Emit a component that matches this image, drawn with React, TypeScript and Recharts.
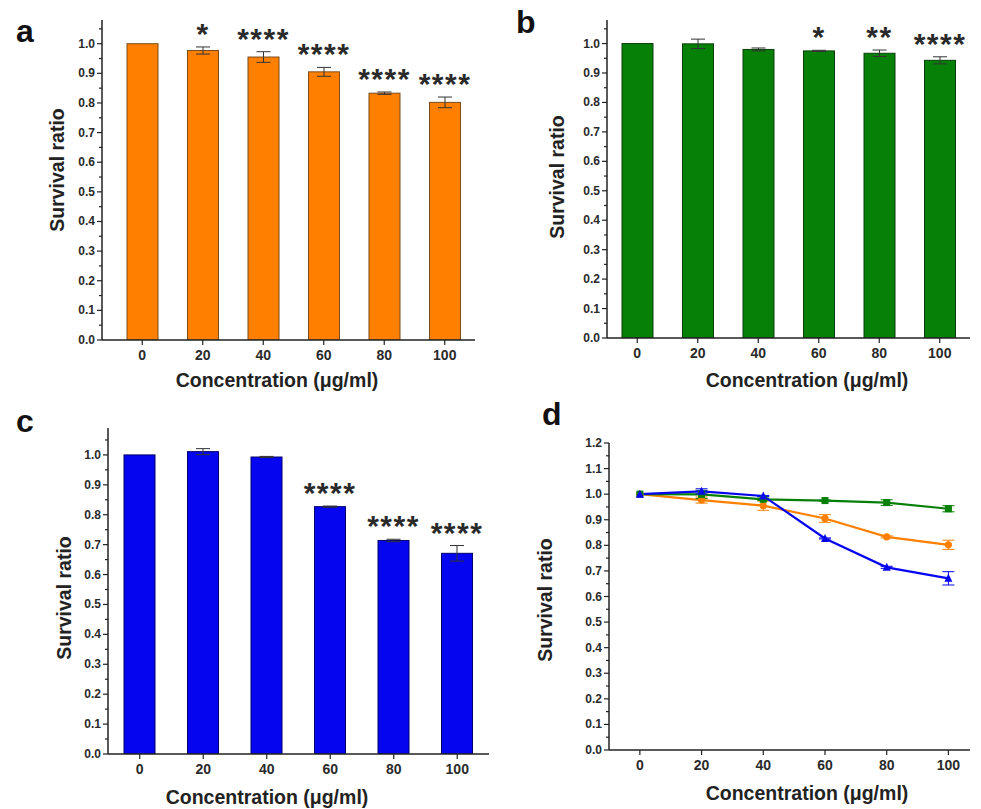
import React from 'react'
import { BarChart, Bar, LineChart, Line, XAxis, YAxis, ErrorBar } from 'recharts'

const FONT = '"Liberation Sans", Arial, sans-serif'
const INK = '#222'

const concentrations = ['0', '20', '40', '60', '80', '100']
const concNum = [0, 20, 40, 60, 80, 100]

// panel a (orange)
const ratioA = [1.0, 0.977, 0.955, 0.905, 0.833, 0.802]
const errA = [0, 0.012, 0.018, 0.015, 0.004, 0.018]
const starsA = ['', '*', '****', '****', '****', '****']

// panel b (green)
const ratioB = [1.0, 0.999, 0.98, 0.975, 0.967, 0.943]
const errB = [0, 0.016, 0.005, 0.002, 0.011, 0.012]
const starsB = ['', '', '', '*', '**', '****']

// panel c (blue)
const ratioC = [1.0, 1.011, 0.993, 0.827, 0.714, 0.671]
const errC = [0, 0.01, 0.002, 0.002, 0.004, 0.026]
const starsC = ['', '', '', '****', '****', '****']

const yTicksBar = [0, 0.05, 0.1, 0.15, 0.2, 0.25, 0.3, 0.35, 0.4, 0.45, 0.5, 0.55, 0.6, 0.65, 0.7, 0.75, 0.8, 0.85, 0.9, 0.95, 1.0, 1.05]
const yTicksLine = [0, 0.05, 0.1, 0.15, 0.2, 0.25, 0.3, 0.35, 0.4, 0.45, 0.5, 0.55, 0.6, 0.65, 0.7, 0.75, 0.8, 0.85, 0.9, 0.95, 1.0, 1.05, 1.1, 1.15, 1.2]
const xTicksLine = [0, 20, 40, 60, 80, 100]

const ORANGE = '#ff8000'
const GREEN = '#078007'
const BLUE = '#0505f0'

const buildRows = (ratio: number[], err: number[], stars: string[]) =>
  concentrations.map((c, i) => ({ conc: c, ratio: ratio[i], err: err[i], stars: stars[i] }))

const rowsA = buildRows(ratioA, errA, starsA)
const rowsB = buildRows(ratioB, errB, starsB)
const rowsC = buildRows(ratioC, errC, starsC)

const lineRows = concNum.map((c, i) => ({
  conc: c,
  a: ratioA[i],
  aErr: errA[i],
  b: ratioB[i],
  bErr: errB[i],
  c: ratioC[i],
  cErr: errC[i],
}))

function YTick(props: any) {
  const { x, y, payload } = props
  const v = payload.value
  const major = Math.abs(v * 10 - Math.round(v * 10)) < 1e-6
  return (
    <g>
      <line x1={x - (major ? 5 : 3)} x2={x} y1={y} y2={y} stroke={INK} strokeWidth={1.2} />
      {major && (
        <text x={x - 7} y={y + 4} textAnchor="end" fontSize={12} fontWeight="bold" fill="#2a2a2a" fontFamily={FONT}>
          {v.toFixed(1)}
        </text>
      )}
    </g>
  )
}

function XTick(props: any) {
  const { x, y, payload } = props
  return (
    <g>
      <line x1={x} x2={x} y1={y} y2={y + 5} stroke={INK} strokeWidth={1.2} />
      <text x={x} y={y + 20} textAnchor="middle" fontSize={14} fontWeight="bold" fill="#2a2a2a" fontFamily={FONT}>
        {payload.value}
      </text>
    </g>
  )
}

// bar with significance stars above its error bar
function StarBar(fill: string, stroke: string) {
  return (props: any) => {
    const { x, y, width, height, payload } = props
    const pxPer = payload.ratio ? height / payload.ratio : 0
    const top = y - payload.err * pxPer
    return (
      <g>
        <rect x={x} y={y} width={width} height={height} fill={fill} stroke={stroke} strokeWidth={1} />
        {payload.stars && (
          <text
            x={x + width / 2}
            y={top - 3}
            textAnchor="middle"
            fontSize={30}
            fontWeight="bold"
            letterSpacing={1.5}
            fill="#2a2a2a"
            fontFamily={FONT}
          >
            {payload.stars}
          </text>
        )}
      </g>
    )
  }
}

function BarPanel({ rows, fill, stroke, width, height, margin, yMax, padLeft }: any) {
  return (
    <BarChart width={width} height={height} data={rows} margin={margin} barSize={31}>
      <XAxis
        dataKey="conc"
        height={30}
        interval={0}
        tick={<XTick />}
        tickLine={false}
        tickSize={0}
        tickMargin={0}
        padding={{ left: padLeft, right: 0 }}
        axisLine={{ stroke: INK, strokeWidth: 1.5 }}
      />
      <YAxis
        type="number"
        width={50}
        domain={[0, yMax]}
        ticks={yTicksBar}
        interval={0}
        allowDataOverflow
        tick={<YTick />}
        tickLine={false}
        tickSize={0}
        tickMargin={0}
        axisLine={{ stroke: INK, strokeWidth: 1.5 }}
      />
      <Bar dataKey="ratio" shape={StarBar(fill, stroke)} isAnimationActive={false}>
        <ErrorBar dataKey="err" width={7} stroke="#333" strokeWidth={1} direction="y" />
      </Bar>
    </BarChart>
  )
}

function makeDot(kind: string, color: string) {
  return (props: any) => {
    const { cx, cy, index } = props
    if (kind === 'square') {
      return <rect key={index} x={cx - 3.5} y={cy - 3.5} width={7} height={7} fill={color} />
    }
    if (kind === 'triangle') {
      return <path key={index} d={`M${cx},${cy - 4.5} L${cx + 4},${cy + 3.5} L${cx - 4},${cy + 3.5} Z`} fill={color} />
    }
    return <circle key={index} cx={cx} cy={cy} r={3.6} fill={color} />
  }
}

function LinePanel() {
  return (
    <LineChart width={491} height={409} data={lineRows} margin={{ top: 43, right: 11, bottom: 29, left: 69 }}>
      <XAxis
        dataKey="conc"
        type="number"
        domain={[-10, 107]}
        ticks={xTicksLine}
        interval={0}
        allowDataOverflow
        height={30}
        tick={<XTick />}
        tickLine={false}
        tickSize={0}
        tickMargin={0}
        axisLine={{ stroke: INK, strokeWidth: 1.5 }}
      />
      <YAxis
        type="number"
        width={50}
        domain={[0, 1.2]}
        ticks={yTicksLine}
        interval={0}
        allowDataOverflow
        tick={<YTick />}
        tickLine={false}
        tickSize={0}
        tickMargin={0}
        axisLine={{ stroke: INK, strokeWidth: 1.5 }}
      />
      <Line dataKey="a" stroke={ORANGE} strokeWidth={2.2} dot={makeDot('circle', ORANGE)} isAnimationActive={false}>
        <ErrorBar dataKey="aErr" width={6} stroke={ORANGE} strokeWidth={1} direction="y" />
      </Line>
      <Line dataKey="b" stroke={GREEN} strokeWidth={2.2} dot={makeDot('square', GREEN)} isAnimationActive={false}>
        <ErrorBar dataKey="bErr" width={6} stroke={GREEN} strokeWidth={1} direction="y" />
      </Line>
      <Line dataKey="c" stroke={BLUE} strokeWidth={2.2} dot={makeDot('triangle', BLUE)} isAnimationActive={false}>
        <ErrorBar dataKey="cErr" width={6} stroke={BLUE} strokeWidth={1} direction="y" />
      </Line>
    </LineChart>
  )
}

const panelLetter = { fontSize: 32, fontWeight: 'bold' as const, fill: '#111', fontFamily: FONT }
const axisTitle = { fontSize: 19.5, fontWeight: 'bold' as const, fill: '#222', fontFamily: FONT }

function YTitle({ cx, cy }: { cx: number; cy: number }) {
  return (
    <text transform={`translate(${cx},${cy}) rotate(-90)`} textAnchor="middle" dominantBaseline="central" {...axisTitle}>
      Survival ratio
    </text>
  )
}

function XTitle({ cx, cy }: { cx: number; cy: number }) {
  return (
    <text x={cx} y={cy} textAnchor="middle" dominantBaseline="central" {...axisTitle}>
      Concentration (μg/ml)
    </text>
  )
}

export default function App() {
  return (
    <div style={{ position: 'absolute', left: 0, top: 0, width: 981, height: 809, background: '#fff', fontFamily: FONT }}>
      <div style={{ position: 'absolute', left: 0, top: 0 }}>
        <BarPanel rows={rowsA} fill={ORANGE} stroke="#7a4a1a" width={490} height={400}
          margin={{ top: 20, right: 15, bottom: 30, left: 52 }} yMax={1.08} padLeft={10} />
      </div>
      <div style={{ position: 'absolute', left: 490, top: 0 }}>
        <BarPanel rows={rowsB} fill={GREEN} stroke="#0a3d0a" width={491} height={400}
          margin={{ top: 20, right: 11, bottom: 32, left: 67 }} yMax={1.08} padLeft={0} />
      </div>
      <div style={{ position: 'absolute', left: 0, top: 400 }}>
        <BarPanel rows={rowsC} fill={BLUE} stroke="#00006a" width={490} height={409}
          margin={{ top: 28, right: 1, bottom: 25, left: 58 }} yMax={1.09} padLeft={0} />
      </div>
      <div style={{ position: 'absolute', left: 490, top: 400 }}>
        <LinePanel />
      </div>
      <svg width={981} height={809} style={{ position: 'absolute', left: 0, top: 0, pointerEvents: 'none' }}>
        <text x={16} y={42} {...panelLetter}>a</text>
        <text x={516} y={33} {...panelLetter}>b</text>
        <text x={16} y={432} {...panelLetter}>c</text>
        <text x={542} y={425} {...panelLetter}>d</text>
        <YTitle cx={57} cy={170} />
        <XTitle cx={277} cy={380} />
        <YTitle cx={557} cy={177} />
        <XTitle cx={807} cy={380} />
        <YTitle cx={64} cy={598} />
        <XTitle cx={267} cy={797} />
        <YTitle cx={545} cy={600} />
        <XTitle cx={807} cy={793} />
      </svg>
    </div>
  )
}
